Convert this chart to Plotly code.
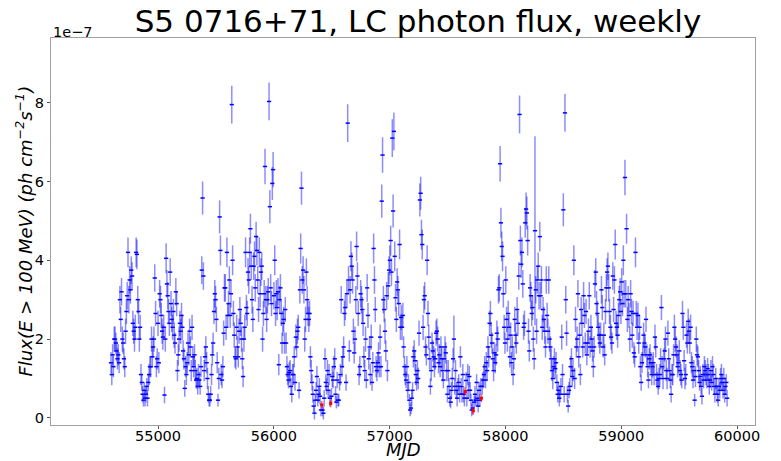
import numpy as np
import plotly.graph_objects as go

# Weekly-binned Fermi-LAT light curve of S5 0716+71, flux in units of 1e-7 ph cm^-2 s^-1
MJD_START = 54594.0
BIN_DAYS = 7.0

flux_part0 = [1.4, 1.1, 1.6, 1.3, 2.0]
err_part0 = [27, 27, 27, 27, 32]

flux_part1 = [2.0, 1.9, 1.7, 1.5, 1.6, 1.4, 3.0, 2.5, 3.2, 2.0,
              1.9, 1.5, 1.3, 2.2, 2.7, 3.1, 4.2, 3.0, 3.5, 3.25,
              3.75, 3.6, 2.4, 2.2, 2.0, 2.3, 4.2, 4.15, 3.0, 2.7,
              2.0, 2.3, 1.1, 0.9, 0.6, 0.45, 0.7, 0.5, 0.6, 0.8,
              0.5, 0.9, 1.1, 1.3, 1.3, 2.0, 1.55, 1.8, 2.0, 3.55,
              2.65, 1.3, 1.5, 2.4, 1.4, 3.15, 3.0, 2.6, 2.2, 2.05,
              2.3, 0.58, 2.0, 4.05, 3.4, 3.1, 2.7, 2.4]
err_part1 = [32, 27, 27, 27, 27, 27, 35, 32, 35, 32,
             27, 27, 27, 32, 32, 35, 38, 35, 35, 35,
             35, 35, 32, 32, 32, 32, 38, 38, 35, 32,
             32, 32, 27, 21, 21, 16, 21, 21, 21, 21,
             21, 21, 27, 27, 27, 32, 27, 27, 32, 35,
             32, 27, 27, 32, 27, 35, 35, 32, 32, 32,
             32, 21, 32, 38, 35, 35, 32, 32]

flux_part2 = [3.7, 2.9, 2.5, 2.3, 2.7, 2.1, 1.9, 3.2, 2.9, 1.2,
              1.6, 2.0, 2.4, 2.2, 2.6, 2.3, 1.7, 1.5, 0.75, 1.3,
              1.1, 1.4, 1.9, 1.6, 2.2, 1.8, 1.2, 2.3, 1.55, 1.3,
              1.6, 1.2, 0.96, 1.0, 0.8, 1.1, 0.96, 0.8, 1.3, 3.75,
              5.58, 3.6, 1.2, 1.55, 1.8, 1.4, 1.0, 0.6, 0.45, 0.45,
              0.6, 1.1, 1.6, 1.9, 2.7, 3.15, 3.0, 2.5, 1.4, 0.45,
              1.0, 5.1, 4.25, 1.1, 0.96, 1.3, 2.15, 3.3]
err_part2 = [35, 32, 32, 32, 32, 32, 27, 35, 32, 27,
             27, 32, 32, 32, 32, 32, 27, 27, 21, 27,
             27, 27, 27, 27, 32, 27, 27, 32, 27, 27,
             27, 27, 21, 27, 21, 27, 21, 21, 27, 35,
             42, 35, 27, 27, 27, 27, 27, 21, 16, 16,
             21, 27, 27, 27, 32, 35, 35, 32, 27, 16,
             27, 42, 38, 27, 21, 27, 32, 35]

flux_part3 = [3.3, 2.3, 4.2, 2.6, 2.9, 3.5, 2.6, 3.15, 7.95, 4.0,
              2.65, 2.1, 1.55, 1.5, 2.3, 1.8, 1.55, 2.2, 2.75, 2.4,
              2.0, 1.5, 1.05, 2.0, 2.3, 4.2, 2.8, 2.65, 3.7, 3.5,
              4.2, 4.8, 3.85, 3.0, 2.5, 3.85, 4.1, 3.3, 4.6, 4.25,
              3.5, 2.75, 4.2, 3.15, 3.7, 3.85, 2.0, 2.65, 3.15, 6.38,
              3.0, 2.5, 3.0, 3.2, 8.03, 5.36, 3.3, 2.9, 5.95, 6.3,
              3.1, 4.0, 2.65, 3.15, 2.8, 3.2, 1.35, 3.0]
err_part3 = [35, 32, 38, 32, 32, 35, 32, 35, 48, 38,
             32, 32, 27, 27, 32, 27, 27, 32, 32, 32,
             32, 27, 27, 32, 32, 38, 32, 32, 35, 35,
             38, 38, 35, 35, 32, 35, 38, 35, 38, 38,
             35, 32, 38, 35, 35, 35, 32, 32, 35, 45,
             35, 32, 35, 35, 48, 42, 35, 32, 42, 45,
             35, 38, 32, 35, 32, 35, 27, 35]

flux_part4 = [3.3, 2.65, 1.9, 2.4, 2.5, 1.9, 2.75, 1.9, 1.3, 1.1,
              0.96, 1.15, 1.2, 0.8, 0.6, 1.1, 1.1, 1.55, 0.9, 2.05,
              1.8, 2.2, 2.3, 0.7, 3.25, 4.3, 5.83, 3.5, 3.75, 3.25,
              2.0, 2.5, 3.7, 3.0, 2.65, 2.5, 2.65, 1.55, 1.2, 0.9,
              0.6, 0.3, 0.12, 0.45, 0.7, 1.05, 0.45, 0.6, 0.8, 0.55,
              0.2, 0.33, 0.2, 0.12, 0.5, 1.5, 0.9, 0.8, 1.2, 0.7,
              1.1, 0.5, 0.37, 0.55, 1.05, 0.96, 1.3, 1.5]
err_part4 = [35, 32, 27, 32, 32, 27, 32, 27, 27, 27,
             21, 27, 27, 21, 21, 27, 27, 27, 21, 32,
             27, 32, 32, 21, 35, 38, 42, 35, 35, 35,
             32, 32, 35, 35, 32, 32, 32, 27, 27, 21,
             21, 16, 16, 16, 21, 27, 16, 21, 21, 21,
             16, 10, 16, 16, 21, 27, 21, 21, 27, 21,
             27, 21, 10, 21, 27, 21, 27, 27]

flux_part5 = [0.6, 0.4, 0.96, 0.45, 0.45, 0.9, 1.1, 3.0, 1.3, 1.55,
              1.8, 2.65, 2.8, 0.9, 3.15, 7.48, 3.5, 1.7, 3.25, 4.1,
              3.85, 3.5, 2.2, 1.65, 2.0, 3.0, 4.35, 3.6, 2.65, 1.1,
              1.3, 3.15, 3.0, 2.75, 2.4, 1.55, 1.2, 2.0, 0.96, 3.3,
              2.6, 1.5, 1.8, 1.1, 2.05, 0.9, 1.4, 4.3, 3.5, 2.75,
              1.3, 1.2, 1.4, 1.65, 1.3, 2.05, 1.3, 5.5, 6.67, 3.0,
              2.75, 2.2, 1.7, 3.1, 1.2, 3.35, 3.75, 4.0]
err_part5 = [21, 16, 21, 16, 16, 21, 27, 35, 27, 27,
             27, 32, 32, 21, 35, 48, 35, 27, 35, 38,
             35, 35, 32, 27, 32, 35, 38, 35, 32, 27,
             27, 35, 35, 32, 32, 27, 27, 32, 21, 35,
             32, 27, 27, 27, 32, 21, 27, 38, 35, 32,
             27, 27, 27, 27, 27, 32, 27, 42, 45, 35,
             32, 32, 27, 35, 27, 35, 35, 38]

flux_part6 = [4.5, 3.7, 7.1, 5.25, 7.27, 4.1, 3.05, 2.5, 3.45, 3.25,
              2.9, 4.4, 2.3, 2.55, 2.3, 2.6, 1.8, 1.3, 1.1, 0.96,
              1.3, 0.7, 0.9, 0.45, 0.2, 0.25, 0.5, 0.7, 1.55, 1.7,
              1.45, 1.1, 0.9, 1.2, 1.0, 2.15, 5.53, 5.7, 4.65, 4.4,
              2.3, 3.0, 3.1, 1.8, 1.6, 4.0, 2.65, 2.05, 1.5, 0.8,
              1.2, 1.9, 1.7, 1.55, 1.3, 1.5, 2.15, 2.2, 2.0, 1.4,
              1.6, 1.3, 1.8, 1.5, 1.2, 0.96, 1.5, 1.8]
err_part6 = [38, 35, 48, 42, 48, 38, 35, 32, 35, 35,
             32, 38, 32, 32, 32, 32, 27, 27, 27, 21,
             27, 21, 21, 16, 16, 16, 21, 21, 27, 27,
             27, 27, 21, 27, 27, 32, 42, 42, 38, 38,
             32, 35, 35, 27, 27, 38, 32, 32, 27, 21,
             27, 27, 27, 27, 27, 27, 32, 32, 32, 27,
             27, 27, 27, 27, 27, 21, 27, 27]

flux_part7 = [1.65, 1.2, 0.6, 1.2, 0.8, 0.5, 0.4, 0.7, 1.0, 1.5,
              2.0, 0.8, 1.2, 0.7, 0.5, 0.8, 0.9, 0.6, 1.55, 0.8,
              0.6, 1.1, 0.6, 0.5, 0.67, 0.95, 0.5, 1.1, 0.7, 1.05,
              0.7, 0.45, 0.2, 0.25, 0.18, 0.4, 0.6, 0.45, 0.9, 0.5,
              0.3, 0.7, 0.45, 0.8, 0.5, 0.8, 0.96, 1.1, 1.3, 0.96,
              1.4, 1.2, 1.8, 1.55, 2.4, 2.65, 2.1, 1.9, 1.5, 1.2,
              1.65, 1.4, 1.6, 2.15, 2.0, 3.25, 3.3, 6.45]
err_part7 = [27, 27, 21, 27, 21, 21, 16, 21, 27, 27,
             60, 21, 27, 21, 21, 21, 21, 21, 27, 21,
             21, 27, 21, 21, 10, 21, 21, 27, 21, 27,
             21, 16, 16, 16, 10, 16, 21, 16, 21, 21,
             16, 21, 16, 21, 10, 21, 21, 27, 27, 21,
             27, 27, 27, 27, 32, 32, 32, 27, 27, 27,
             27, 27, 27, 32, 32, 35, 35, 45]

flux_part8 = [4.95, 4.35, 4.1, 3.15, 2.3, 1.9, 3.5, 2.5, 2.0, 2.65,
              2.3, 1.55, 2.1, 1.4, 1.8, 1.1, 1.5, 2.5, 2.1, 1.9,
              2.75, 2.4, 3.6, 7.7, 4.5, 3.9, 4.2, 3.4, 2.3, 2.4,
              4.95, 5.3, 5.2, 4.5, 2.2, 1.7, 3.3, 3.1, 2.65, 2.8,
              2.0, 1.5, 4.75, 3.25, 2.2, 3.5, 3.85, 3.1, 4.6, 3.1,
              3.5, 2.3, 2.75, 2.5, 2.2, 1.8, 3.5, 2.6, 2.2, 3.5,
              2.0, 1.8, 1.5, 1.2, 1.0, 1.3, 1.5, 1.25]
err_part8 = [38, 38, 38, 35, 32, 27, 35, 32, 32, 32,
             32, 27, 32, 27, 27, 27, 27, 32, 32, 27,
             32, 32, 35, 48, 38, 35, 38, 35, 32, 32,
             38, 42, 42, 38, 32, 27, 35, 35, 32, 32,
             32, 27, 240, 35, 32, 35, 35, 35, 38, 35,
             35, 32, 32, 32, 32, 27, 35, 32, 32, 35,
             32, 27, 27, 27, 27, 27, 27, 27]

flux_part9 = [1.4, 0.9, 0.6, 0.7, 0.5, 0.6, 0.8, 2.05, 1.1, 5.28,
              0.6, 7.74, 3.0, 2.15, 0.6, 0.3, 0.7, 0.8, 1.3, 1.5,
              1.05, 1.2, 4.0, 1.0, 2.5, 1.8, 2.0, 3.15, 1.55, 2.1,
              1.1, 2.75, 2.4, 1.8, 3.1, 2.6, 1.9, 2.7, 1.6, 1.9,
              2.2, 3.1, 1.8, 2.3, 2.0, 1.7, 1.3, 1.8, 3.4, 3.7,
              2.9, 2.65, 2.3, 2.1, 1.9, 2.1, 3.25, 2.8, 1.8, 2.1,
              1.6, 2.7, 3.3, 3.7, 3.85, 3.3, 2.7, 2.3]
err_part9 = [27, 21, 21, 21, 21, 21, 21, 32, 27, 42,
             21, 48, 35, 32, 21, 16, 21, 21, 27, 27,
             27, 27, 38, 27, 32, 27, 32, 35, 27, 32,
             27, 32, 32, 27, 35, 32, 27, 32, 27, 27,
             32, 35, 27, 32, 32, 27, 27, 27, 35, 35,
             32, 32, 32, 32, 27, 32, 35, 32, 27, 32,
             27, 32, 35, 35, 35, 35, 32, 32]

flux_part10 = [2.05, 1.9, 3.6, 2.75, 3.5, 4.4, 2.4, 2.3, 2.1, 2.6,
               3.0, 3.2, 2.7, 3.45, 2.9, 4.0, 3.15, 6.1, 3.15, 4.8,
               2.5, 3.0, 2.6, 2.0, 3.15, 2.7, 2.1, 2.65, 1.65, 1.55,
               4.2, 2.65, 2.3, 2.6, 1.9, 2.3, 1.3, 0.9, 1.4, 1.6,
               2.1, 1.9, 1.8, 2.5, 1.6, 1.3, 0.96, 1.5, 1.6, 1.4,
               1.1, 1.3, 1.4, 1.1, 2.05, 1.8, 1.1, 0.96, 0.8, 1.0,
               1.1, 1.5, 2.8, 1.3, 1.0, 1.5, 1.7, 2.0]
err_part10 = [32, 27, 35, 32, 35, 38, 32, 32, 32, 32,
              35, 35, 32, 35, 32, 38, 35, 45, 35, 38,
              32, 35, 32, 32, 35, 32, 32, 32, 27, 27,
              38, 32, 32, 32, 27, 32, 27, 21, 27, 27,
              32, 27, 27, 32, 27, 27, 21, 27, 27, 27,
              27, 27, 27, 27, 32, 27, 27, 21, 21, 27,
              27, 27, 32, 27, 27, 27, 27, 32]

flux_part11 = [1.2, 1.0, 2.15, 1.5, 1.2, 0.96, 0.6, 1.1, 1.1, 1.6,
               2.3, 2.0, 1.8, 1.6, 1.3, 1.4, 1.7, 1.2, 1.1, 0.96,
               2.65, 2.3, 1.45, 1.0, 1.1, 2.1, 1.9, 2.45, 2.2, 1.9,
               2.3, 1.4, 1.3, 0.96, 1.2, 0.45, 1.05, 2.0, 1.6, 1.55,
               1.2, 0.9, 1.05, 0.8, 0.55, 1.1, 0.96, 1.3, 1.2, 1.1,
               0.96, 1.25, 1.1, 0.8, 0.96, 1.2, 0.9, 1.3, 1.1, 0.8,
               0.6, 1.0, 0.8, 0.6, 0.45, 0.8, 0.7, 1.0, 1.1,
               0.9, 0.7, 1.0, 0.6, 0.8, 0.9, 0.5]
err_part11 = [27, 27, 32, 27, 27, 21, 21, 27, 27, 27,
              32, 32, 27, 27, 27, 27, 27, 27, 27, 21,
              32, 32, 27, 27, 27, 32, 27, 32, 32, 27,
              32, 27, 27, 21, 27, 16, 27, 32, 27, 27,
              27, 21, 27, 21, 21, 27, 21, 27, 27, 27,
              21, 27, 27, 21, 21, 27, 21, 27, 27, 21,
              21, 27, 21, 21, 16, 21, 21, 27, 27,
              21, 21, 27, 21, 21, 21, 21]

# Bins with low test statistic, drawn in red
low_ts_bins = [260, 271, 437, 447, 457]

x_ticks = [55000, 56000, 57000, 58000, 59000, 60000]
y_ticks = [0, 2, 4, 6, 8]

flux = np.array(flux_part0 + flux_part1 + flux_part2 + flux_part3 + flux_part4 + flux_part5
                + flux_part6 + flux_part7 + flux_part8 + flux_part9 + flux_part10 + flux_part11)
err = np.array(err_part0 + err_part1 + err_part2 + err_part3 + err_part4 + err_part5
               + err_part6 + err_part7 + err_part8 + err_part9 + err_part10 + err_part11) / 100.0
mjd = MJD_START + BIN_DAYS * np.arange(len(flux))

red = np.zeros(len(flux), dtype=bool)
red[low_ts_bins] = True
blue = ~red

FONT = "DejaVu Sans"

fig = go.Figure()
fig.add_trace(go.Scatter(
    x=mjd[blue], y=flux[blue], mode="markers",
    marker=dict(symbol="line-ew-open", size=3, color="blue",
                line=dict(width=1.5, color="blue")),
    error_y=dict(type="data", array=err[blue], color="rgba(0,0,255,0.45)",
                 thickness=1.5, width=0),
    showlegend=False,
))
fig.add_trace(go.Scatter(
    x=mjd[red], y=flux[red], mode="markers",
    marker=dict(symbol="square", size=3, color="red"),
    error_y=dict(type="data", array=err[red], color="rgba(255,0,0,0.6)",
                 thickness=1.5, width=0),
    showlegend=False,
))

axis_common = dict(
    showgrid=False, zeroline=False, showline=True, mirror=True,
    linecolor="#a0a0a0", linewidth=1.2,
    ticks="outside", ticklen=3, tickwidth=1.2, tickcolor="#555555",
    tickfont=dict(family=FONT, size=14.5, color="black"),
)

fig.update_layout(
    width=781, height=461,
    margin=dict(l=51, r=26, t=38, b=36),
    paper_bgcolor="white", plot_bgcolor="white",
    title=dict(text="S5 0716+71, LC photon flux, weekly",
               font=dict(family=FONT, size=31, color="black"),
               x=(418 - 51) / 704, xref="paper", xanchor="center",
               y=1 - 21 / 461, yref="container", yanchor="middle"),
    xaxis=dict(range=[54076, 60155], tickvals=x_ticks,
               ticktext=[str(v) for v in x_ticks], ticklabelstandoff=-6,
               **axis_common),
    yaxis=dict(range=[-0.18, 9.64], tickvals=y_ticks,
               ticktext=[str(v) for v in y_ticks], **axis_common),
    annotations=[
        dict(text="1e\u22127", x=0, y=1, xref="paper", yref="paper",
             xanchor="left", yanchor="bottom", yshift=-4, showarrow=False,
             font=dict(family=FONT, size=14.5, color="black")),
        dict(text="<i>MJD</i>", x=0.5, y=0, xref="paper", yref="paper",
             xanchor="center", yanchor="bottom", yshift=-36, borderpad=0,
             showarrow=False, font=dict(family=FONT, size=18, color="black")),
        dict(text="<i>Flux(E > 100 MeV) (ph cm<sup>\u22122</sup>s<sup>\u22121</sup>)</i>",
             x=0, y=0.5, xref="paper", yref="paper", textangle=-90,
             xanchor="center", yanchor="middle", xshift=-27, showarrow=False,
             font=dict(family=FONT, size=18, color="black")),
    ],
)

fig.write_html("out.html")
